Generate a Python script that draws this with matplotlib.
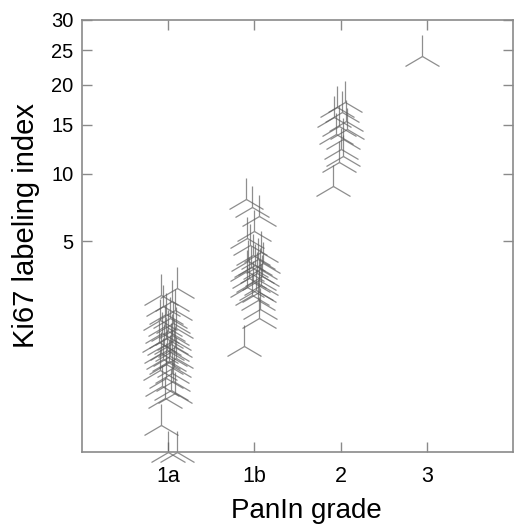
import numpy as np
import matplotlib
matplotlib.use("Agg")
import matplotlib.pyplot as plt

plt.rcParams['font.family'] = ['Liberation Sans', 'DejaVu Sans']

# PanIn grades and their tick labels
grades = [1, 2, 3, 4]
grade_labels = ['1a', '1b', '2', '3']

# Ki67 labeling index per lesion
ki67_1a = [2.67, 2.39, 2.17, 2.00, 1.87, 1.74, 1.62, 1.56, 1.47, 1.39, 1.33,
           1.26, 1.21, 1.16, 1.08, 1.04, 0.99, 0.95, 0.91, 0.87, 0.82, 0.79,
           0.75, 0.71, 0.67, 0.64, 0.61, 0.56, 0.51, 0.47, 0.43, 0.37, 0.33,
           0.28, 0.24, 0.21, 0.17, 0.03, 0.0, 0.0]
ki67_1b = [7.9, 7.3, 6.6, 5.6, 5.2, 4.8, 4.4, 4.2, 4.0, 3.9, 3.8, 3.7, 3.6,
           3.5, 3.4, 3.3, 3.2, 3.1, 3.0, 2.9, 2.8, 2.7, 2.6, 2.5, 2.4, 2.2,
           1.9, 1.6, 0.9]
ki67_2 = [17.7, 17.1, 16.5, 15.9, 15.4, 14.8, 14.5, 13.9, 13.4, 12.4, 11.7,
          11.1, 8.9]
ki67_3 = [24.1]

# horizontal scatter of each point around its grade
jit_1a = [0.10, -0.08, 0.05, -0.06, 0.08, -0.03, 0.02, -0.09, 0.06, -0.04,
          0.09, 0.00, -0.07, 0.04, -0.02, 0.07, -0.10, 0.03, -0.05, 0.08,
          -0.01, 0.05, -0.08, 0.02, 0.09, -0.06, 0.01, -0.03, 0.07, -0.09,
          0.04, -0.02, 0.06, -0.07, 0.03, 0.08, -0.04, -0.08, 0.00, 0.10]
jit_1b = [-0.10, -0.03, 0.06, 0.00, -0.09, -0.05, 0.08, -0.02, 0.04, -0.07,
          0.10, 0.01, -0.04, 0.07, -0.09, 0.03, 0.09, -0.06, 0.05, -0.01,
          0.08, -0.08, 0.02, 0.06, -0.03, 0.04, 0.07, 0.05, -0.12]
jit_2 = [0.05, -0.04, 0.02, -0.07, 0.06, -0.02, 0.08, -0.05, 0.03, 0.00,
         0.03, -0.02, -0.09]
jit_3 = [-0.06]

yticks = [5, 10, 15, 20, 25, 30]

# power-like axis: 5..30 spacing in the picture matches y**0.4
def fwd(y):
    y = np.asarray(y, dtype=float)
    return np.sign(y) * np.abs(y) ** 0.4

def inv(t):
    t = np.asarray(t, dtype=float)
    return np.sign(t) * np.abs(t) ** 2.5

fig = plt.figure(figsize=(5.15, 5.24), dpi=100)
ax = fig.add_axes([0.159, 0.137, 0.837, 0.825])
ax.set_yscale('function', functions=(fwd, inv))

groups = [(ki67_1a, jit_1a), (ki67_1b, jit_1b), (ki67_2, jit_2), (ki67_3, jit_3)]
for g, (vals, jit) in zip(grades, groups):
    xs = g + np.array(jit)
    ax.plot(xs, vals, linestyle='none', marker='2', markersize=30,
            markeredgewidth=0.9, color='#5e5e5e', alpha=0.7, clip_on=False)

ax.set_xlim(0, 5)
ax.set_ylim(0, 30)
ax.set_xticks(grades)
ax.set_xticklabels(grade_labels)
ax.set_yticks(yticks)
ax.set_yticklabels([str(t) for t in yticks])
ax.minorticks_off()

for s in ax.spines.values():
    s.set_color('#8a8a8a')
    s.set_linewidth(1.2)
ax.tick_params(direction='in', length=7, width=1, color='#8a8a8a',
               top=True, right=True)
ax.tick_params(axis='x', pad=10, labelsize=15.5)
ax.tick_params(axis='y', pad=6, labelsize=14.5)

ax.set_xlabel('PanIn grade', fontsize=20)
ax.set_ylabel('Ki67 labeling index', fontsize=21)
ax.xaxis.set_label_coords(0.52, -0.106)
ax.yaxis.set_label_coords(-0.097, 0.525)

fig.savefig('out.png', dpi=100, facecolor='white')
